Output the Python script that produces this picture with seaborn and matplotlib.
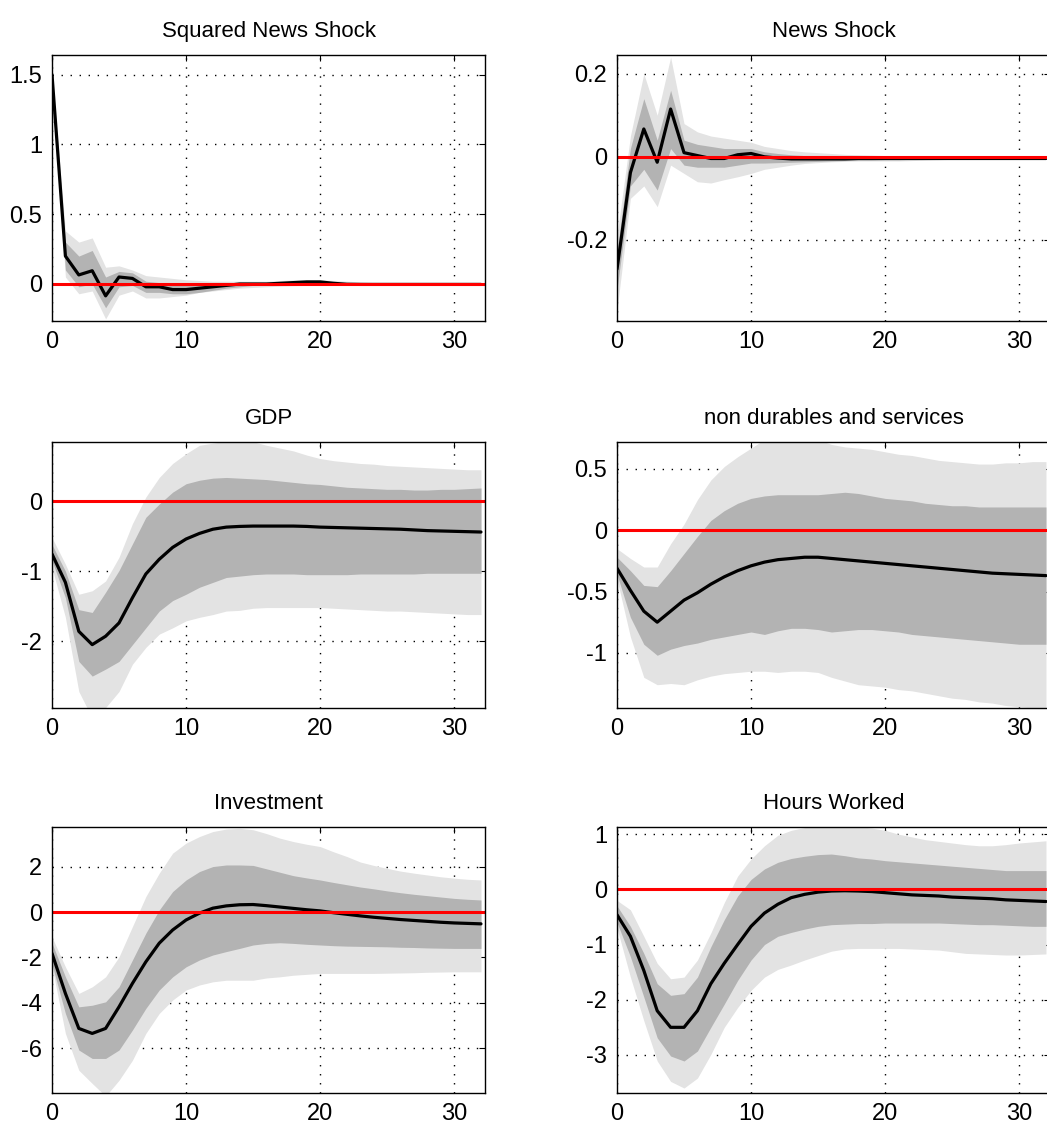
import numpy as np
import pandas as pd
import matplotlib
matplotlib.use("Agg")
import matplotlib.pyplot as plt
import seaborn as sns
from matplotlib import font_manager
from matplotlib.ticker import FuncFormatter

# Impulse responses over 33 quarters with 68% and 90% posterior bands
horizon = np.arange(33)

titles = ["Squared News Shock", "News Shock", "GDP",
          "non durables and services", "Investment", "Hours Worked"]

sq_med = [1.50, 0.20, 0.065, 0.095, -0.085, 0.05, 0.04, -0.02, -0.02, -0.04, -0.04, -0.03,
          -0.02, -0.01, 0.0, 0.0, 0.0, 0.005, 0.01, 0.015, 0.015, 0.005, -0.002, -0.003,
          -0.003, -0.003, -0.003, -0.003, -0.003, -0.003, -0.003, -0.003, -0.003]
sq_hi68 = [1.50, 0.30, 0.20, 0.24, 0.05, 0.09, 0.08, 0.02, 0.01, 0.0, 0.0, 0.0, 0.005, 0.01,
           0.01, 0.01, 0.01, 0.015, 0.02, 0.02, 0.02, 0.01, 0.005, 0.003, 0.002, 0.001,
           0.0, 0.0, 0.0, 0.0, 0.0, 0.0, 0.0]
sq_lo68 = [1.50, 0.10, -0.02, 0.0, -0.17, -0.02, -0.01, -0.06, -0.06, -0.07, -0.07, -0.06,
           -0.045, -0.03, -0.02, -0.01, -0.01, -0.005, 0.0, 0.005, 0.005, -0.002, -0.004,
           -0.005, -0.004, -0.004, -0.004, -0.004, -0.004, -0.004, -0.004, -0.004, -0.004]
sq_hi90 = [1.50, 0.38, 0.30, 0.33, 0.12, 0.13, 0.10, 0.06, 0.05, 0.04, 0.03, 0.025, 0.02,
           0.02, 0.02, 0.02, 0.02, 0.025, 0.03, 0.03, 0.03, 0.025, 0.02, 0.015, 0.01, 0.005,
           0.003, 0.002, 0.001, 0.0, 0.0, 0.0, 0.0]
sq_lo90 = [1.50, 0.05, -0.07, -0.05, -0.25, -0.08, -0.05, -0.10, -0.10, -0.09, -0.08, -0.06,
           -0.05, -0.04, -0.03, -0.025, -0.02, -0.015, -0.012, -0.01, -0.01, -0.01, -0.008,
           -0.006, -0.005, -0.005, -0.005, -0.005, -0.005, -0.005, -0.005, -0.005, -0.005]

news_med = [-0.27, -0.038, 0.067, -0.013, 0.115, 0.01, 0.003, -0.004, -0.004, 0.005, 0.008,
            0.0, -0.003, -0.005, -0.005, -0.005, -0.005, -0.005, -0.004, -0.004, -0.004,
            -0.004, -0.004, -0.004, -0.004, -0.004, -0.004, -0.004, -0.004, -0.004, -0.004,
            -0.004, -0.004]
news_hi68 = [-0.23, 0.02, 0.14, 0.04, 0.16, 0.04, 0.03, 0.025, 0.02, 0.02, 0.02, 0.012, 0.008,
             0.005, 0.003, 0.002, 0.001, 0.0, 0.0, 0.0, 0.0, 0.0, 0.0, 0.0, 0.0, 0.0, 0.0, 0.0,
             0.0, 0.0, 0.0, 0.0, 0.0]
news_lo68 = [-0.32, -0.07, -0.03, -0.08, 0.02, -0.02, -0.025, -0.025, -0.025, -0.02, -0.015,
             -0.015, -0.014, -0.013, -0.012, -0.011, -0.01, -0.009, -0.008, -0.008, -0.007,
             -0.007, -0.006, -0.006, -0.006, -0.006, -0.006, -0.006, -0.006, -0.006, -0.006,
             -0.006, -0.006]
news_hi90 = [-0.19, 0.05, 0.20, 0.10, 0.24, 0.08, 0.06, 0.05, 0.045, 0.04, 0.035, 0.025, 0.02,
             0.015, 0.012, 0.01, 0.008, 0.006, 0.005, 0.004, 0.003, 0.002, 0.002, 0.001, 0.001,
             0.001, 0.0, 0.0, 0.0, 0.0, 0.0, 0.0, 0.0]
news_lo90 = [-0.37, -0.10, -0.07, -0.12, -0.02, -0.04, -0.06, -0.063, -0.055, -0.048, -0.04,
             -0.03, -0.025, -0.02, -0.016, -0.014, -0.012, -0.011, -0.01, -0.01, -0.01, -0.01,
             -0.009, -0.008, -0.007, -0.006, -0.006, -0.006, -0.006, -0.006, -0.006, -0.006,
             -0.006]

gdp_med = [-0.755, -1.16, -1.86, -2.05, -1.93, -1.74, -1.38, -1.04, -0.83, -0.66, -0.54, -0.46,
           -0.40, -0.37, -0.36, -0.355, -0.355, -0.355, -0.355, -0.36, -0.37, -0.375, -0.38,
           -0.385, -0.39, -0.395, -0.40, -0.41, -0.42, -0.425, -0.43, -0.435, -0.44]
gdp_hi68 = [-0.62, -1.0, -1.55, -1.59, -1.3, -0.99, -0.61, -0.23, -0.04, 0.13, 0.25, 0.30, 0.33,
            0.34, 0.33, 0.32, 0.31, 0.29, 0.27, 0.25, 0.24, 0.22, 0.2, 0.19, 0.18, 0.17, 0.17,
            0.16, 0.16, 0.17, 0.17, 0.18, 0.19]
gdp_lo68 = [-0.85, -1.38, -2.29, -2.5, -2.4, -2.29, -2.05, -1.81, -1.57, -1.42, -1.33, -1.23,
            -1.16, -1.09, -1.07, -1.05, -1.04, -1.04, -1.04, -1.05, -1.05, -1.05, -1.05, -1.04,
            -1.04, -1.04, -1.04, -1.04, -1.03, -1.03, -1.03, -1.03, -1.03]
gdp_hi90 = [-0.52, -0.9, -1.33, -1.28, -1.14, -0.8, -0.32, 0.06, 0.34, 0.54, 0.68, 0.80, 0.83,
            0.86, 0.87, 0.85, 0.8, 0.76, 0.72, 0.66, 0.61, 0.58, 0.56, 0.54, 0.53, 0.51, 0.5,
            0.49, 0.48, 0.47, 0.46, 0.45, 0.45]
gdp_lo90 = [-0.95, -1.66, -2.72, -3.1, -2.95, -2.72, -2.33, -2.09, -1.9, -1.81, -1.71, -1.66,
            -1.62, -1.57, -1.56, -1.53, -1.52, -1.52, -1.52, -1.52, -1.52, -1.53, -1.54, -1.55,
            -1.56, -1.57, -1.57, -1.58, -1.59, -1.6, -1.61, -1.62, -1.62]

nd_med = [-0.31, -0.49, -0.66, -0.75, -0.66, -0.57, -0.51, -0.44, -0.38, -0.33, -0.29, -0.26,
          -0.24, -0.23, -0.22, -0.22, -0.23, -0.24, -0.25, -0.26, -0.27, -0.28, -0.29, -0.30,
          -0.31, -0.32, -0.33, -0.34, -0.35, -0.355, -0.36, -0.365, -0.37]
nd_hi68 = [-0.22, -0.33, -0.45, -0.46, -0.33, -0.19, -0.05, 0.08, 0.16, 0.22, 0.26, 0.28, 0.29,
           0.29, 0.29, 0.29, 0.30, 0.31, 0.30, 0.28, 0.26, 0.25, 0.24, 0.22, 0.21, 0.20, 0.20,
           0.19, 0.19, 0.19, 0.19, 0.19, 0.19]
nd_lo68 = [-0.36, -0.71, -0.93, -1.02, -0.97, -0.94, -0.92, -0.89, -0.87, -0.85, -0.83, -0.85,
           -0.82, -0.80, -0.80, -0.81, -0.83, -0.82, -0.81, -0.81, -0.82, -0.83, -0.85, -0.86,
           -0.87, -0.88, -0.89, -0.90, -0.91, -0.92, -0.93, -0.93, -0.93]
nd_hi90 = [-0.15, -0.23, -0.30, -0.30, -0.11, 0.05, 0.25, 0.41, 0.52, 0.60, 0.67, 0.74, 0.77,
           0.78, 0.77, 0.74, 0.70, 0.68, 0.67, 0.66, 0.64, 0.62, 0.61, 0.59, 0.57, 0.56, 0.55,
           0.54, 0.54, 0.55, 0.55, 0.56, 0.56]
nd_lo90 = [-0.40, -0.87, -1.20, -1.26, -1.25, -1.26, -1.22, -1.19, -1.17, -1.16, -1.15, -1.15,
           -1.16, -1.15, -1.15, -1.16, -1.2, -1.23, -1.26, -1.27, -1.28, -1.30, -1.31, -1.33,
           -1.35, -1.37, -1.38, -1.40, -1.41, -1.43, -1.44, -1.45, -1.46]

inv_med = [-1.82, -3.58, -5.12, -5.34, -5.12, -4.17, -3.14, -2.19, -1.37, -0.79, -0.35, -0.05,
           0.17, 0.27, 0.32, 0.33, 0.28, 0.22, 0.16, 0.10, 0.05, -0.03, -0.10, -0.17, -0.23,
           -0.28, -0.33, -0.37, -0.41, -0.45, -0.48, -0.50, -0.52]
inv_hi68 = [-1.37, -2.85, -4.17, -4.1, -3.95, -3.29, -2.11, -0.93, 0.09, 0.9, 1.41, 1.78, 2.0,
            2.07, 2.07, 2.05, 1.9, 1.75, 1.6, 1.5, 1.41, 1.3, 1.2, 1.1, 1.02, 0.93, 0.85, 0.78,
            0.72, 0.66, 0.6, 0.56, 0.53]
inv_lo68 = [-2.3, -4.46, -6.07, -6.44, -6.44, -6.07, -5.19, -4.24, -3.43, -2.85, -2.41, -2.11,
            -1.89, -1.74, -1.6, -1.45, -1.38, -1.35, -1.38, -1.42, -1.45, -1.48, -1.5, -1.51,
            -1.52, -1.53, -1.55, -1.56, -1.58, -1.59, -1.6, -1.6, -1.6]
inv_hi90 = [-1.1, -2.41, -3.58, -3.29, -2.85, -1.97, -0.64, 0.68, 1.71, 2.59, 3.03, 3.32, 3.54,
            3.65, 3.68, 3.62, 3.45, 3.25, 3.1, 2.98, 2.88, 2.65, 2.44, 2.2, 2.05, 1.92, 1.8,
            1.71, 1.63, 1.55, 1.49, 1.44, 1.41]
inv_lo90 = [-2.4, -5.34, -6.96, -7.54, -8.1, -7.4, -6.52, -5.34, -4.46, -3.87, -3.43, -3.21,
            -3.07, -3.0, -3.0, -3.0, -2.9, -2.85, -2.78, -2.74, -2.7, -2.7, -2.7, -2.7, -2.7,
            -2.69, -2.68, -2.67, -2.65, -2.64, -2.63, -2.63, -2.63]

hw_med = [-0.46, -0.85, -1.47, -2.2, -2.5, -2.5, -2.2, -1.71, -1.34, -1.0, -0.67, -0.43, -0.27,
          -0.15, -0.09, -0.05, -0.03, -0.025, -0.03, -0.04, -0.06, -0.08, -0.1, -0.11, -0.12,
          -0.14, -0.15, -0.16, -0.17, -0.19, -0.2, -0.21, -0.22]
hw_hi68 = [-0.3, -0.67, -1.16, -1.71, -1.92, -1.89, -1.59, -1.04, -0.55, -0.12, 0.18, 0.37,
           0.49, 0.56, 0.6, 0.63, 0.64, 0.61, 0.57, 0.55, 0.52, 0.5, 0.48, 0.46, 0.44, 0.42,
           0.4, 0.38, 0.36, 0.34, 0.34, 0.34, 0.34]
hw_lo68 = [-0.6, -1.22, -1.95, -2.69, -3.02, -3.11, -2.93, -2.5, -2.08, -1.65, -1.28, -1.0,
           -0.85, -0.78, -0.72, -0.67, -0.64, -0.63, -0.62, -0.62, -0.61, -0.61, -0.61, -0.61,
           -0.61, -0.62, -0.63, -0.64, -0.64, -0.65, -0.66, -0.67, -0.67]
hw_hi90 = [-0.2, -0.37, -0.85, -1.34, -1.62, -1.59, -1.28, -0.79, -0.24, 0.24, 0.55, 0.79,
           0.98, 1.07, 1.12, 1.15, 1.16, 1.16, 1.14, 1.11, 1.07, 1.0, 0.95, 0.9, 0.87, 0.84,
           0.81, 0.79, 0.79, 0.81, 0.84, 0.86, 0.88]
hw_lo90 = [-0.7, -1.59, -2.38, -3.11, -3.48, -3.6, -3.42, -2.99, -2.5, -2.14, -1.83, -1.59,
           -1.45, -1.37, -1.28, -1.2, -1.12, -1.08, -1.07, -1.07, -1.07, -1.07, -1.08, -1.09,
           -1.1, -1.13, -1.16, -1.17, -1.18, -1.19, -1.19, -1.18, -1.17]

y_limits = [(-0.265, 1.64), (-0.395, 0.245), (-2.956, 0.847),
            (-1.45, 0.72), (-7.96, 3.74), (-3.69, 1.13)]
y_ticks = [[0, 0.5, 1, 1.5], [-0.2, 0, 0.2], [-2, -1, 0],
           [-1, -0.5, 0, 0.5], [-6, -4, -2, 0, 2], [-3, -2, -1, 0, 1]]
x_ticks = [0, 10, 20, 30]

panels = [
    (sq_med, sq_lo68, sq_hi68, sq_lo90, sq_hi90),
    (news_med, news_lo68, news_hi68, news_lo90, news_hi90),
    (gdp_med, gdp_lo68, gdp_hi68, gdp_lo90, gdp_hi90),
    (nd_med, nd_lo68, nd_hi68, nd_lo90, nd_hi90),
    (inv_med, inv_lo68, inv_hi68, inv_lo90, inv_hi90),
    (hw_med, hw_lo68, hw_hi68, hw_lo90, hw_hi90),
]

sns.set_style("white")
available = {f.name for f in font_manager.fontManager.ttflist}
base_font = "Liberation Sans Narrow" if "Liberation Sans Narrow" in available else "Liberation Sans"
plt.rcParams["font.family"] = [base_font, "DejaVu Sans"]
plt.rcParams["axes.unicode_minus"] = False
plt.rcParams["text.color"] = "black"
plt.rcParams["axes.titlecolor"] = "black"

W, H = 1047, 1137
fig = plt.figure(figsize=(W / 100, H / 100), dpi=100)

col_left = [52, 617]
row_top = [55, 442, 827]
ax_w, ax_h = 433, 266

fmt = FuncFormatter(lambda v, p: f"{v:g}")

for i, (title, (med, lo68, hi68, lo90, hi90)) in enumerate(zip(titles, panels)):
    r, c = divmod(i, 2)
    left = col_left[c] / W
    bottom = 1 - (row_top[r] + ax_h) / H
    ax = fig.add_axes([left, bottom, ax_w / W, ax_h / H])

    ax.fill_between(horizon, lo90, hi90, color="#e3e3e3", lw=0, zorder=1)
    ax.fill_between(horizon, lo68, hi68, color="#b3b3b3", lw=0, zorder=2)
    frame = pd.DataFrame({"h": horizon, "irf": med})
    sns.lineplot(data=frame, x="h", y="irf", ax=ax, color="black", lw=2.3, zorder=3)
    ax.axhline(0, color="#ff0000", lw=2.2, zorder=4)

    ax.set_xlim(0, 32.3)
    ax.set_ylim(*y_limits[i])
    ax.set_xticks(x_ticks)
    ax.set_yticks(y_ticks[i])
    ax.yaxis.set_major_formatter(fmt)
    ax.set_xlabel("")
    ax.set_ylabel("")
    ax.set_title(title, fontsize=16, pad=13, color="black")

    ax.grid(True, color="black", linestyle=(0, (1, 5.5)), lw=1.0, zorder=0)
    ax.set_axisbelow(True)
    ax.tick_params(direction="in", length=4, width=0.8, labelsize=17, pad=7,
                   top=True, right=True, colors="black", labelcolor="black")
    for s in ax.spines.values():
        s.set_color("black")
        s.set_linewidth(1.0)
        s.set_zorder(5)

fig.savefig("out.png", dpi=100)
